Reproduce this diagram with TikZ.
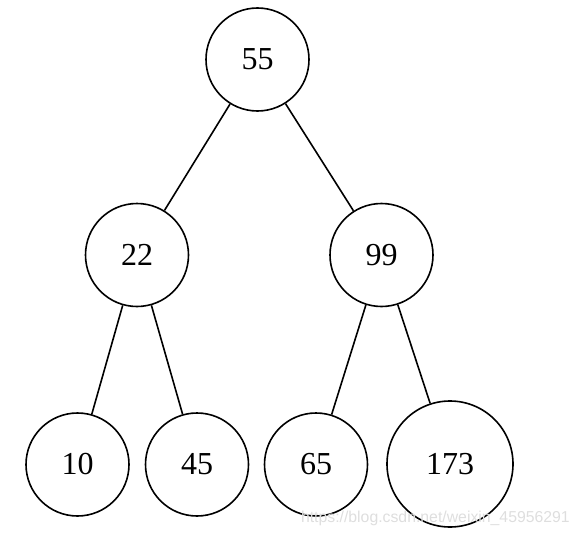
\documentclass[tikz,border=0pt]{standalone}
\usepackage{fontspec}
\setmainfont{Liberation Serif}
\newfontfamily\wmfont{Liberation Sans}
\begin{document}
\begin{tikzpicture}[x=1pt,y=-1pt,
  tnode/.style={draw,circle,line width=1.6pt,inner sep=0pt,minimum size=103pt,font=\fontsize{32}{36}\selectfont},
  bignode/.style={tnode,minimum size=126pt},
  edge/.style={line width=1.6pt}]
\useasboundingbox (0,0) rectangle (578,535);
\node[tnode] (n55) at (257.5,59.5) {55};
\node[tnode] (n22) at (137,255) {22};
\node[tnode] (n99) at (381.5,255) {99};
\node[tnode] (n10) at (77.5,464.5) {10};
\node[tnode] (n45) at (197,464.5) {45};
\node[tnode] (n65) at (316,464.5) {65};
\node[bignode] (n173) at (450,464) {173};
\draw[edge] (n55) -- (n22);
\draw[edge] (n55) -- (n99);
\draw[edge] (n22) -- (n10);
\draw[edge] (n22) -- (n45);
\draw[edge] (n99) -- (n65);
\draw[edge] (n99) -- (n173);
\node[anchor=east,text=black!13,font=\wmfont\fontsize{15.8}{18}\selectfont,inner sep=0pt] (wm) at (570,518) {https://blog.csdn.net/weixin\_45956291};
\end{tikzpicture}
\end{document}
